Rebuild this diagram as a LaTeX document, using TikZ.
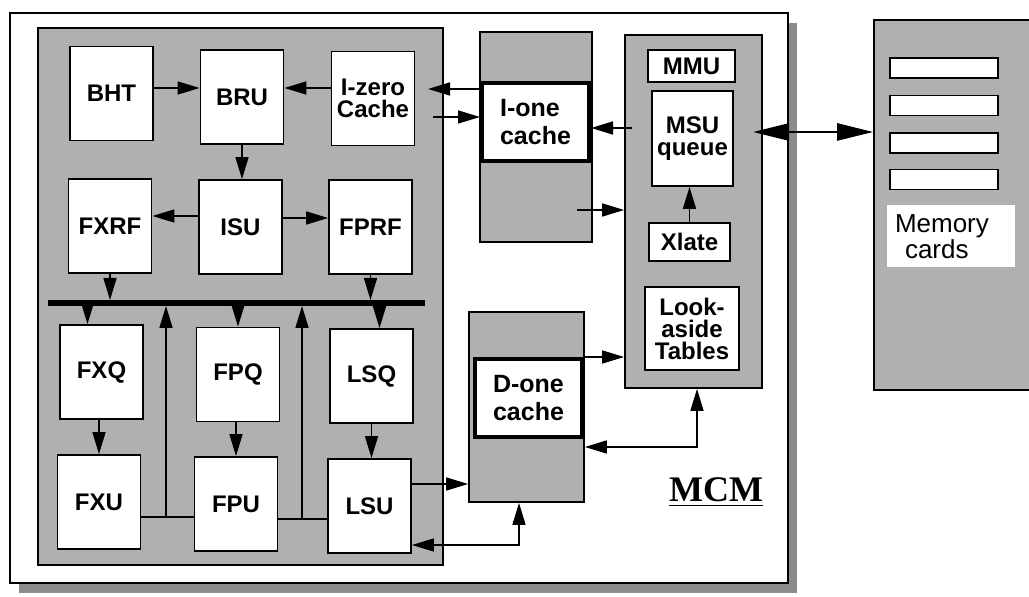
\documentclass[tikz,border=0pt]{standalone}
\usepackage{fontspec}
\setmainfont{Liberation Sans}
\newfontfamily\mcmfont{Liberation Serif}
\usetikzlibrary{arrows.meta}

\tikzset{
  graybox/.style={draw, line width=0.9pt, fill=black!31, inner sep=0pt},
  unitbox/.style={draw, line width=0.9pt, fill=white, inner sep=0pt,
    minimum width=41.5pt, minimum height=47pt,
    font=\fontsize{12}{11}\selectfont\bfseries, align=center},
  cachebox/.style={draw, line width=2pt, fill=white, inner sep=0pt,
    minimum width=53.5pt, minimum height=39pt,
    font=\fontsize{12.5}{14}\selectfont\bfseries, align=left},
  cardbox/.style={draw, line width=0.9pt, fill=white, inner sep=0pt,
    minimum width=54pt, minimum height=10pt},
  arr/.style={line width=0.8pt, -{Triangle[length=11pt,width=6.5pt]}},
  dblarr/.style={line width=0.8pt,
    {Triangle[length=11pt,width=6.5pt]}-{Triangle[length=11pt,width=6.5pt]}},
  bigarr/.style={line width=1.4pt,
    {Triangle[length=18pt,width=8.5pt]}-{Triangle[length=18pt,width=8.5pt]}},
  bus/.style={line width=3pt}
}

\begin{document}
\begin{tikzpicture}[x=0.5pt,y=-0.5pt]
  \useasboundingbox (0,0) rectangle (1029,597);

  % MCM module and its shadow
  \fill[black!45] (19,23) rectangle (797,593);
  \node[draw, line width=0.9pt, fill=white, inner sep=0pt,
    minimum width=389pt, minimum height=285pt] (mcm) at (399,298) {};
  \node[anchor=base, font=\mcmfont\fontsize{18}{18}\selectfont\bfseries]
    (mcmlbl) at (716,502) {\underline{MCM}};

  % processor
  \node[graybox, minimum width=202.5pt, minimum height=268.5pt] (core) at (240.5,296.5) {};
  \node[unitbox] (bht)   at (111.5,93.5) {BHT};
  \node[unitbox] (bru)   at (242,97)     {BRU};
  \node[unitbox] (izero) at (373,98.5)   {I-zero\\Cache};
  \node[unitbox] (fxrf)  at (110,226)    {FXRF};
  \node[unitbox] (isu)   at (240.5,227)  {ISU};
  \node[unitbox] (fprf)  at (370.5,227)  {FPRF};
  \node[unitbox] (fxq)   at (101.5,372)  {FXQ};
  \node[unitbox] (fpq)   at (238,374.5)  {FPQ};
  \node[unitbox] (lsq)   at (371.5,376)  {LSQ};
  \node[unitbox] (fxu)   at (99,502)     {FXU};
  \node[unitbox] (fpu)   at (236,504)    {FPU};
  \node[unitbox] (lsu)   at (369.5,506)  {LSU};

  \draw[arr] (bht.east |- 0,88) -- (bru.west |- 0,88);
  \draw[arr] (izero.west |- 0,88) -- (bru.east |- 0,88);
  \draw[arr] (bru.south) -- (bru.south |- isu.north);
  \draw[arr] (isu.west |- 0,216) -- (fxrf.east |- 0,216);
  \draw[arr] (isu.east |- 0,218) -- (fprf.west |- 0,218);

  % result bus
  \coordinate (busw) at (48,303);
  \coordinate (buse) at (425,303);
  \draw[bus] (busw) -- (buse);
  \draw[arr] (fxrf.south) -- (fxrf.south |- 0,300);
  \draw[arr] (fprf.south) -- (fprf.south |- 0,300);
  \draw[arr] ([xshift=-7pt]fxq.north |- 0,306) -- ([xshift=-7pt]fxq.north);
  \draw[arr] (fpq.north |- 0,306) -- (fpq.north);
  \draw[arr] ([xshift=4pt]lsq.north |- 0,306) -- ([xshift=4pt]lsq.north);
  \draw[arr] (fxu.north |- fxq.south) -- (fxu.north);
  \draw[arr] (fpu.north |- fpq.south) -- (fpu.north);
  \draw[arr] (lsq.south) -- (lsq.south |- lsu.north);

  \coordinate (ret1) at (166,517);
  \draw[line width=0.8pt] (fxu.east |- ret1) -- (fpu.west |- ret1);
  \draw[arr] (ret1) -- (ret1 |- 0,306);
  \coordinate (ret2) at (302,519);
  \draw[line width=0.8pt] (fpu.east |- ret2) -- (lsu.west |- ret2);
  \draw[arr] (ret2) -- (ret2 |- 0,306);

  % caches
  \node[graybox, minimum width=56pt, minimum height=105pt] (igray) at (536,137) {};
  \node[cachebox] (icache) at (535.5,122.5) {I-one\\cache};
  \node[graybox, minimum width=57.5pt, minimum height=95pt] (dgray) at (526.5,407) {};
  \node[cachebox] (dcache) at (528.5,398) {D-one\\cache};

  % memory subsystem
  \node[graybox, minimum width=68.5pt, minimum height=176.5pt] (msubox) at (693.5,211.5) {};
  \node[unitbox, minimum width=43.5pt, minimum height=16pt] (mmu) at (691.5,66) {MMU};
  \node[unitbox, minimum width=40.5pt, minimum height=47.5pt] (msuq) at (692.5,138.5) {MSU\\queue};
  \node[unitbox, minimum width=40.5pt, minimum height=19pt] (xlate) at (689.5,242) {Xlate};
  \node[unitbox, minimum width=47pt, minimum height=41.5pt] (look) at (692,328.5) {Look-\\aside\\Tables};
  \draw[arr] (xlate.north) -- (xlate.north |- msuq.south);

  \coordinate (izt) at (428,89);
  \draw[arr] (icache.west |- izt) -- (izt);
  \coordinate (izs) at (433,117);
  \draw[arr] (izs) -- (icache.west |- izs);
  \draw[arr] ([xshift=4pt]msubox.west |- 0,128) -- (icache.east |- 0,128);
  \coordinate (ig) at (577,210);
  \draw[arr] (ig) -- (msubox.west |- ig);

  \draw[arr] (lsu.east |- 0,484) -- (dgray.west |- 0,484);
  \coordinate (dl) at (519,545);
  \draw[dblarr] (lsu.east |- dl) -- (dl) -- (dl |- dgray.south);
  \draw[arr] (dgray.east |- 0,357) -- (msubox.west |- 0,357);
  \coordinate (lk) at (697,447);
  \draw[dblarr] (dgray.east |- lk) -- (lk) -- (lk |- msubox.south);

  % memory cards
  \node[graybox, minimum width=80.5pt, minimum height=185pt] (membox) at (954.5,205) {};
  \foreach \y [count=\i] in {68,105.5,143,179.5}
    \node[cardbox] (card\i) at (944,\y) {};
  \node[fill=white, inner xsep=4pt, inner ysep=0pt, text width=56pt,
    minimum height=31pt, align=left, font=\fontsize{13}{12}\selectfont]
    (memlbl) at (951,236.5) {Memory\\\hspace{5pt}cards};

  \coordinate (mq) at (753,132);
  \draw[bigarr] (mq) -- (membox.west |- mq);
\end{tikzpicture}
\end{document}
